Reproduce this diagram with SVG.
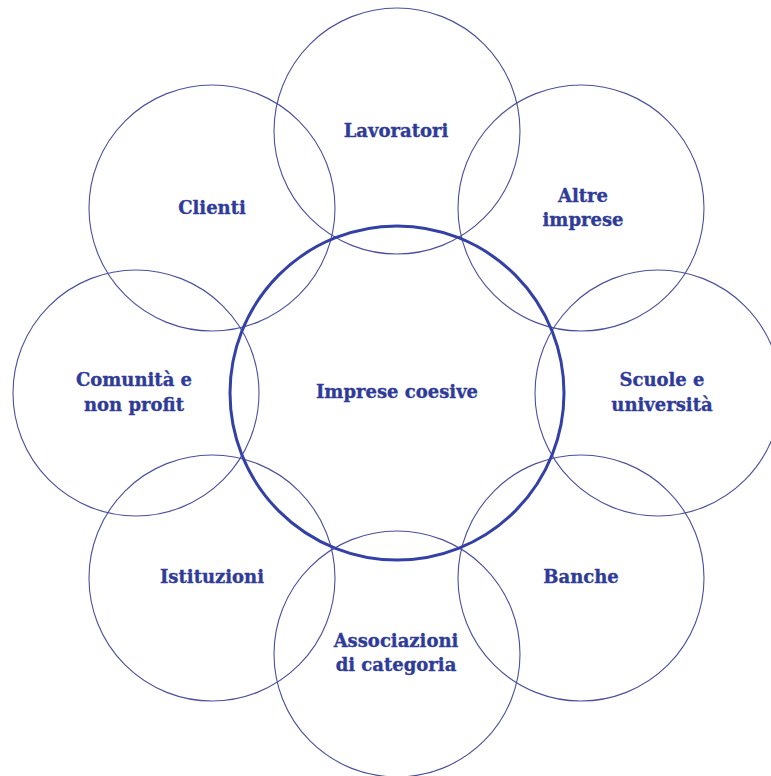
<svg xmlns="http://www.w3.org/2000/svg" width="771" height="776" viewBox="0 0 771 776">
<style>
.o{fill:none;stroke:#4b509e;stroke-width:1.1}
.c{fill:none;stroke:#3340a6;stroke-width:3}
text{font-family:"DejaVu Serif","Liberation Serif",serif;font-weight:bold;font-size:18px;fill:#2f3b99;stroke:#2f3b99;stroke-width:0.35;text-anchor:middle}
</style>
<rect width="771" height="776" fill="#fff"/>
<g id="lavoratori"><circle class="o" cx="397" cy="131" r="123"/><text x="396" y="137">Lavoratori</text></g>
<g id="altre-imprese"><circle class="o" cx="581" cy="208" r="123"/><text x="583" y="202">Altre</text><text x="583" y="226">imprese</text></g>
<g id="scuole"><circle class="o" cx="658" cy="393" r="123"/><text x="662" y="386">Scuole e</text><text x="662" y="411">università</text></g>
<g id="banche"><circle class="o" cx="581" cy="578" r="123"/><text x="581" y="583">Banche</text></g>
<g id="associazioni"><circle class="o" cx="397" cy="654" r="123"/><text x="396" y="647">Associazioni</text><text x="396" y="671">di categoria</text></g>
<g id="istituzioni"><circle class="o" cx="212" cy="578" r="123"/><text x="212" y="583">Istituzioni</text></g>
<g id="comunita"><circle class="o" cx="136" cy="393" r="123"/><text x="134" y="386">Comunità e</text><text x="134" y="411">non profit</text></g>
<g id="clienti"><circle class="o" cx="212" cy="208" r="123"/><text x="212" y="214">Clienti</text></g>
<g id="imprese-coesive"><circle class="c" cx="397" cy="393" r="167"/><text x="397" y="398">Imprese coesive</text></g>
</svg>
